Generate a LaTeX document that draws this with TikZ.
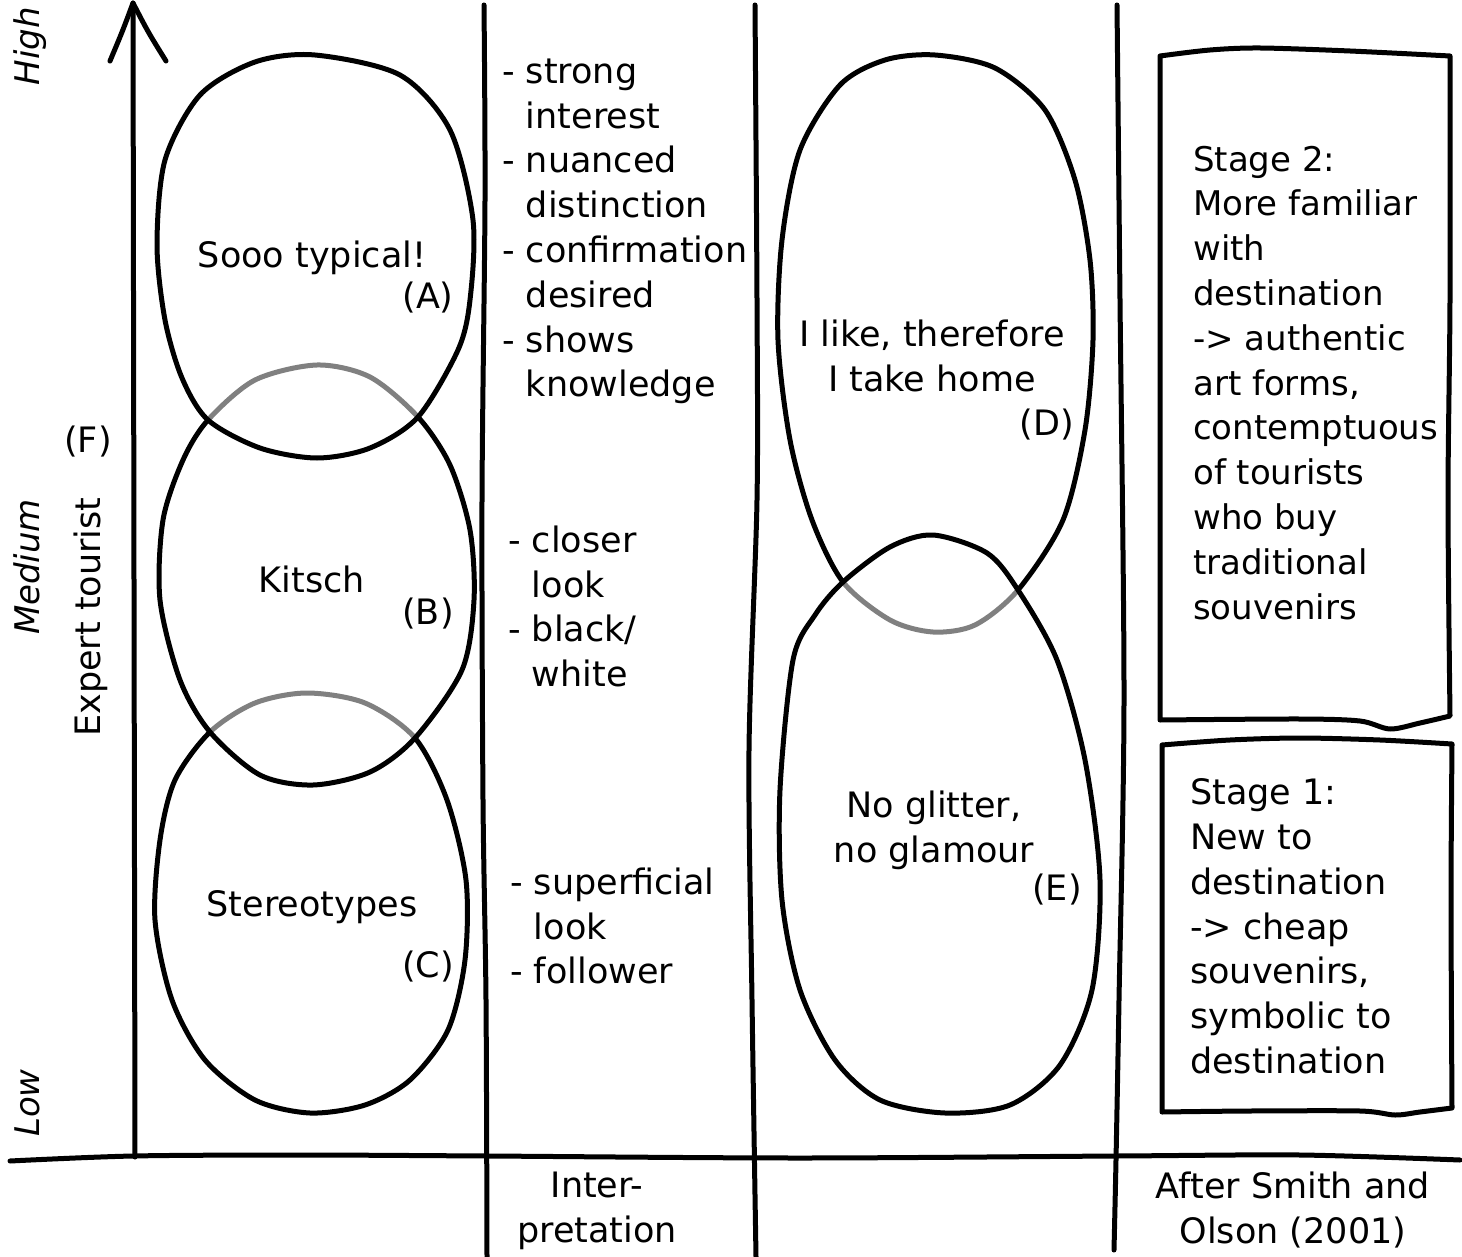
\documentclass[tikz,border=0pt]{standalone}
\usepackage{fontspec}
\setmainfont{DejaVu Sans}
\begin{document}
\begin{tikzpicture}[x=1pt,y=-1pt,
  ink/.style={line width=5pt, line cap=round, line join=round},
  ghost/.style={ink, draw=black!50},
  erase/.style={line width=7.5pt, draw=white},
  txt/.style={font=\fontsize{35}{44.8}\selectfont, inner sep=0pt},
  blk/.style={txt, align=left, anchor=north west, execute at begin node=\strut},
  cblk/.style={txt, align=center, anchor=north, execute at begin node=\strut},
  lbl/.style={txt, anchor=base},
  lvl/.style={font=\fontsize{34}{40}\selectfont\itshape, inner sep=0pt, anchor=base, rotate=90}
]
\newcommand\myind{\hphantom{-}\ }
\useasboundingbox (0,0) rectangle (1462,1257);

% shapes
\def\pA{plot[smooth cycle] coordinates {(315,55) (400,75) (450,130) (473,220) (470,300) (458,350) (418,417) (370,448) (317,458) (260,448) (208,420) (182,378) (165,320) (157,245) (165,160) (200,95) (255,62)}}
\def\pB{plot[smooth cycle] coordinates {(317,365) (370,377) (418,417) (450,465) (470,530) (474,600) (462,670) (415,738) (370,772) (313,785) (260,775) (210,732) (180,680) (160,600) (163,520) (183,460) (208,420) (255,380)}}
\def\pC{plot[smooth cycle] coordinates {(307,693) (365,703) (415,738) (447,800) (466,880) (465,960) (448,1030) (410,1080) (365,1105) (310,1113) (255,1100) (205,1060) (172,1000) (155,920) (160,840) (175,780) (210,732) (255,703)}}
\def\pD{plot[smooth cycle] coordinates {(935,55) (995,68) (1045,110) (1075,180) (1090,260) (1093,340) (1085,430) (1063,520) (1018,590) (975,625) (933,632) (890,620) (843,582) (812,520) (790,440) (778,340) (782,240) (800,150) (840,85) (885,60)}}
\def\pE{plot[smooth cycle] coordinates {(933,535) (987,553) (1018,590) (1057,660) (1085,760) (1100,880) (1092,990) (1060,1065) (1010,1105) (945,1113) (880,1100) (835,1060) (800,990) (782,900) (780,790) (793,660) (815,615) (843,582) (890,547)}}

% left group
\draw[ink] \pC;
\begin{scope}
  \clip \pB;
  \draw[erase] \pC;
  \draw[ghost] \pC;
\end{scope}
\draw[ink] \pB;
\begin{scope}
  \clip \pA;
  \draw[erase] \pB;
  \draw[ghost] \pB;
\end{scope}
\draw[ink] \pA;

% right group
\draw[ink] \pD;
\begin{scope}
  \clip \pE;
  \draw[erase] \pD;
  \draw[ghost] \pD;
\end{scope}
\draw[ink] \pE;

% axes and separators
\coordinate (ybot) at (135,1157);
\coordinate (ytop) at (133,3);
\coordinate (armL) at (110,61);
\coordinate (armR) at (166,61);
\draw[ink] (ybot) -- (ytop);
\draw[ink] (armL) .. controls (123,30) .. (ytop) .. controls (148,32) .. (armR);
\draw[ink] plot[smooth] coordinates {(10,1161) (133,1156) (300,1155) (487,1156) (800,1158) (1117,1156) (1300,1155) (1460,1160)};
\draw[ink] plot[smooth] coordinates {(484,5) (485,200) (482,500) (483,800) (486,1000) (487,1257)};
\draw[ink] plot[smooth] coordinates {(755,5) (757,300) (757,500) (749,750) (752,1000) (756,1257)};
\draw[ink] plot[smooth] coordinates {(1117,5) (1120,300) (1124,700) (1119,1000) (1116,1160) (1114,1250)};

% boxes
\draw[ink] plot[smooth] coordinates {(1160,56) (1210,50) (1260,48) (1350,51) (1450,56)}
  -- plot[smooth] coordinates {(1450,56) (1450,300) (1448,500) (1450,716)}
  -- plot[smooth] coordinates {(1450,716) (1420,723) (1390,729) (1360,721) (1300,719) (1160,720)}
  -- cycle;
\draw[ink] plot[smooth] coordinates {(1162,745) (1230,740) (1300,738) (1380,740) (1452,744)}
  -- plot[smooth] coordinates {(1452,744) (1451,900) (1452,1108)}
  -- plot[smooth] coordinates {(1452,1108) (1420,1112) (1395,1115) (1360,1111) (1250,1111) (1162,1112)}
  -- cycle;

% level labels
\node[lvl] (high) at (39,46) {High};
\node[lvl] (medium) at (39,567) {Medium};
\node[lvl] (low) at (39,1103) {Low};
\node[txt, anchor=base, rotate=90] (expert) at (100,617) {Expert tourist};
\node[lbl] (F) at (88,452) {(F)};

% ellipse labels
\node[lbl] (tA) at (312,268) {Sooo typical!};
\node[lbl] (A) at (428,309) {(A)};
\node[lbl] (tB) at (312,592) {Kitsch};
\node[lbl] (B) at (428,624) {(B)};
\node[lbl] (tC) at (312,916) {Stereotypes};
\node[lbl] (C) at (428,977) {(C)};
\node[cblk] (tD) at (932,319.6) {I like, therefore\\I take home};
\node[lbl] (D) at (1047,435) {(D)};
\node[cblk] (tE) at (934,790.6) {No glitter,\\no glamour};
\node[lbl] (E) at (1057,900) {(E)};

% interpretation column
\node[blk] (i1) at (502,58.6) {- strong\\\myind interest\\- nuanced\\\myind distinction\\- confirmation\\\myind desired\\- shows\\\myind knowledge};
\node[blk] (i2) at (508,525.6) {- closer\\\myind look\\- black/\\\myind white};
\node[blk] (i3) at (510,867.6) {- superficial\\\myind look\\- follower};

% stage boxes text
\node[blk, font=\fontsize{34}{44.8}\selectfont] (s2) at (1193,145.6) {Stage 2:\\More familiar\\with\\destination\\-> authentic\\art forms,\\contemptuous\\of tourists\\who buy\\traditional\\souvenirs};
\node[blk] (s1) at (1190,778.6) {Stage 1:\\New to\\destination\\-> cheap\\souvenirs,\\symbolic to\\destination};

% bottom labels
\node[cblk] (interp) at (597,1171.6) {Inter-\\pretation};
\node[cblk] (after) at (1293,1171.6) {After Smith and\\Olson (2001)};
\end{tikzpicture}
\end{document}
